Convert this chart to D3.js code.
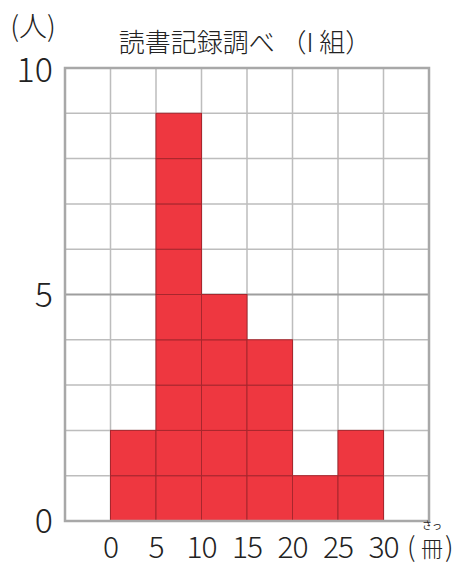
<!DOCTYPE html>
<html>
<head>
<meta charset="utf-8">
<script src="https://cdn.jsdelivr.net/npm/d3@7"></script>
<style>
  body { margin: 0; background: #fff; }
  text { font-family: "Noto Sans CJK JP", "Noto Sans", sans-serif; fill: #222; }
</style>
</head>
<body>
<div id="chart"></div>
<script>
// data: number of students per reading-count class (冊)
const binStarts = [0, 5, 10, 15, 20, 25];
const counts    = [2, 9, 5, 4, 1, 2];
const xTicks    = [0, 5, 10, 15, 20, 25, 30];
const yTicks    = [0, 5, 10];
const title     = "読書記録調べ （I 組）";

const W = 459, H = 565;
const svg = d3.select("#chart").append("svg")
    .attr("width", W).attr("height", H);

const x = d3.scaleLinear().domain([-5, 35]).range([65, 429]);
const y = d3.scaleLinear().domain([0, 10]).range([521, 68]);

// grid
const grid = svg.append("g");
d3.range(-5, 36, 5).forEach(v => {
    grid.append("line").attr("x1", x(v)).attr("x2", x(v))
        .attr("y1", y(0)).attr("y2", y(10))
        .attr("stroke", "#bdbdbd").attr("stroke-width", 1.5);
});
d3.range(0, 11, 1).forEach(v => {
    grid.append("line").attr("x1", x(-5)).attr("x2", x(35))
        .attr("y1", y(v)).attr("y2", y(v))
        .attr("stroke", v == 5 ? "#9e9e9e" : "#bdbdbd")
        .attr("stroke-width", v == 5 ? 2 : 1.5);
});

// bars drawn as unit cells
const bars = svg.append("g");
binStarts.forEach((b, i) => {
    for (let k = 0; k < counts[i]; k++) {
        bars.append("rect")
            .attr("x", x(b)).attr("y", y(k + 1))
            .attr("width", x(b + 5) - x(b)).attr("height", y(k) - y(k + 1))
            .attr("fill", "#ee3740").attr("stroke", "#a8262d").attr("stroke-width", 1);
    }
});

// frame
svg.append("rect").attr("x", x(-5)).attr("y", y(10))
    .attr("width", x(35) - x(-5)).attr("height", y(0) - y(10))
    .attr("fill", "none").attr("stroke", "#a8a8a8").attr("stroke-width", 2.5);

// y labels
svg.append("g").selectAll("text").data(yTicks).join("text")
    .attr("x", 53).attr("y", d => y(d) + 12 + (d == 10 ? 2 : 0))
    .attr("text-anchor", "end").attr("font-size", 34).attr("font-weight", 300)
    .text(d => d);

// x labels
svg.append("g").selectAll("text").data(xTicks).join("text")
    .attr("x", d => x(d)).attr("y", 558)
    .attr("text-anchor", "middle").attr("font-size", 30).attr("font-weight", 300)
    .attr("letter-spacing", -1)
    .text(d => d);

// unit (冊) with reading さっ
const unit = svg.append("text").attr("y", 557).attr("font-weight", 300);
unit.append("tspan").attr("x", 407).attr("font-size", 27).text("(");
unit.append("tspan").attr("x", 421).attr("font-size", 22).text("冊");
unit.append("tspan").attr("x", 445).attr("font-size", 27).text(")");
svg.append("text").attr("x", 432).attr("y", 529).attr("text-anchor", "middle")
    .attr("font-size", 10).text("さっ");

svg.append("text").attr("x", 33).attr("y", 37).attr("text-anchor", "middle")
    .attr("font-size", 28).attr("font-weight", 300).text("(人)");

svg.append("text").attr("x", 245).attr("y", 52).attr("text-anchor", "middle")
    .attr("font-size", 26).attr("font-weight", 300).text(title);
</script>
</body>
</html>
